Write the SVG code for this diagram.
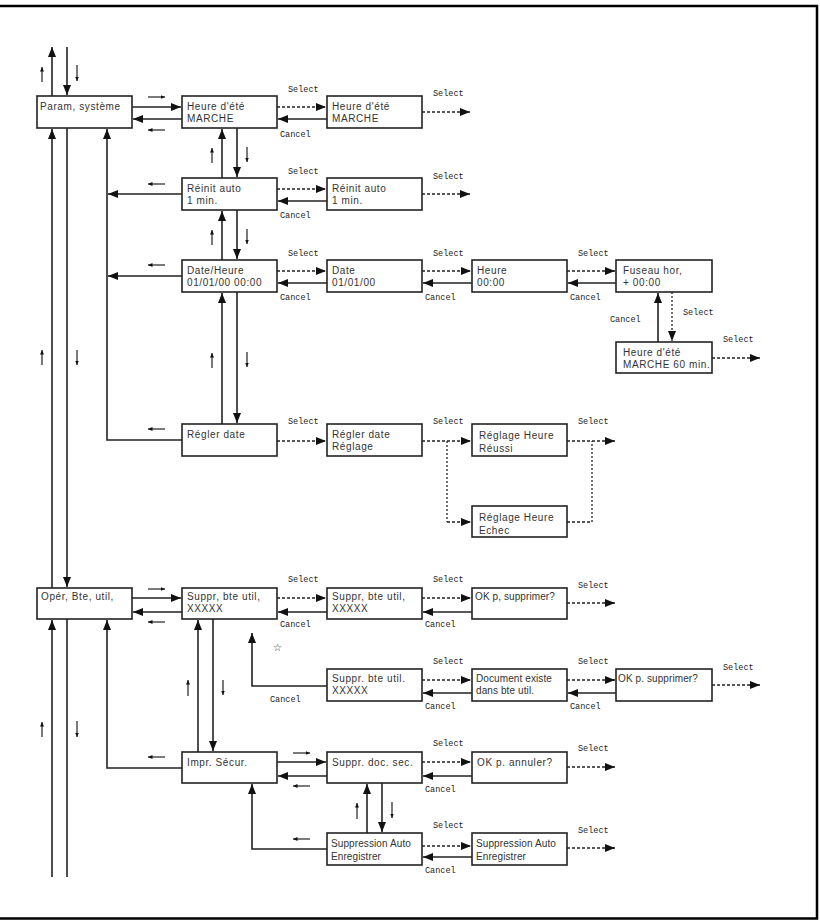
<svg xmlns="http://www.w3.org/2000/svg" width="820" height="921" viewBox="0 0 820 921">
<style>
.bx{fill:#fff;stroke:#222;stroke-width:1.6}
.t{font-family:"Liberation Sans",Arial,sans-serif;font-size:10px;fill:#333;letter-spacing:0.6px}
.t0{letter-spacing:0.1px}
.lb{font-family:"Liberation Mono","DejaVu Sans Mono",monospace;font-size:8.5px;fill:#222}
.ln{fill:none;stroke:#222;stroke-width:1.6}
.ds{fill:none;stroke:#222;stroke-width:1.3;stroke-dasharray:3 2}
.dt{fill:none;stroke:#222;stroke-width:1.3;stroke-dasharray:2 2}
.sm{fill:none;stroke:#222;stroke-width:1.2}
.brd{fill:none;stroke:#000;stroke-width:2.5}
</style>
<defs>
<marker id="ah" markerUnits="userSpaceOnUse" markerWidth="11" markerHeight="9" refX="10" refY="4" orient="auto"><path d="M0,0 L10,4 L0,8 z" fill="#111"/></marker>
<marker id="sa" markerUnits="userSpaceOnUse" markerWidth="5" markerHeight="5" refX="4.5" refY="2" orient="auto"><path d="M0,0 L4.5,2 L0,4 z" fill="#111"/></marker>
</defs>
<g id="frame">
<path class="brd" d="M0,6 H817 V918.5 H0"/>
</g>
<g id="connectors">
<path class="ln" d="M52,877 V620" marker-end="url(#ah)"/>
<path class="ln" d="M52,588 V129" marker-end="url(#ah)"/>
<path class="ln" d="M52,96 V47" marker-end="url(#ah)"/>
<path class="ln" d="M67,47 V95" marker-end="url(#ah)"/>
<path class="ln" d="M67,128 V587" marker-end="url(#ah)"/>
<path class="ln" d="M67,619 V877"/>
<path class="ln" d="M182,440 H107 V129" marker-end="url(#ah)"/>
<path class="ln" d="M182,194 H108" marker-end="url(#ah)"/>
<path class="ln" d="M182,276 H108" marker-end="url(#ah)"/>
<path class="ln" d="M182,768 H107 V620" marker-end="url(#ah)"/>
<path class="ln" d="M132,107 H181" marker-end="url(#ah)"/>
<path class="ln" d="M182,119 H133" marker-end="url(#ah)"/>
<path class="ln" d="M222,178 V129" marker-end="url(#ah)"/>
<path class="ln" d="M237,128 V177" marker-end="url(#ah)"/>
<path class="ln" d="M222,260 V211" marker-end="url(#ah)"/>
<path class="ln" d="M237,210 V259" marker-end="url(#ah)"/>
<path class="ln" d="M222,424 V293" marker-end="url(#ah)"/>
<path class="ln" d="M237,292 V423" marker-end="url(#ah)"/>
<path class="ds" d="M277,107 H326" marker-end="url(#ah)"/>
<path class="ln" d="M327,119 H278" marker-end="url(#ah)"/>
<path class="ds" d="M422,112 H470" marker-end="url(#ah)"/>
<path class="ds" d="M277,189 H326" marker-end="url(#ah)"/>
<path class="ln" d="M327,201 H278" marker-end="url(#ah)"/>
<path class="ds" d="M422,194 H470" marker-end="url(#ah)"/>
<path class="ds" d="M277,271 H326" marker-end="url(#ah)"/>
<path class="ln" d="M327,283 H278" marker-end="url(#ah)"/>
<path class="ds" d="M422,271 H471" marker-end="url(#ah)"/>
<path class="ln" d="M472,283 H423" marker-end="url(#ah)"/>
<path class="ds" d="M567,271 H615" marker-end="url(#ah)"/>
<path class="ln" d="M616,283 H568" marker-end="url(#ah)"/>
<path class="dt" d="M672,292 V341" marker-end="url(#ah)"/>
<path class="ln" d="M658,342 V293" marker-end="url(#ah)"/>
<path class="ds" d="M712,358 H760" marker-end="url(#ah)"/>
<path class="ds" d="M277,441 H326" marker-end="url(#ah)"/>
<path class="ds" d="M422,441 H471" marker-end="url(#ah)"/>
<path class="dt" d="M447,441 V522"/>
<path class="ds" d="M447,522 H471" marker-end="url(#ah)"/>
<path class="ds" d="M567,441 H615" marker-end="url(#ah)"/>
<path class="ds" d="M567,522 H592"/>
<path class="dt" d="M592,522 V441"/>
<path class="ln" d="M132,598 H181" marker-end="url(#ah)"/>
<path class="ln" d="M182,612 H133" marker-end="url(#ah)"/>
<path class="ds" d="M277,598 H326" marker-end="url(#ah)"/>
<path class="ln" d="M327,612 H278" marker-end="url(#ah)"/>
<path class="ds" d="M422,598 H471" marker-end="url(#ah)"/>
<path class="ln" d="M472,612 H423" marker-end="url(#ah)"/>
<path class="ds" d="M567,603 H615" marker-end="url(#ah)"/>
<path class="ln" d="M198,752 V620" marker-end="url(#ah)"/>
<path class="ln" d="M213,619 V751" marker-end="url(#ah)"/>
<path class="ln" d="M327,686 H252 V633" marker-end="url(#ah)"/>
<path class="ds" d="M422,680 H471" marker-end="url(#ah)"/>
<path class="ln" d="M472,693 H423" marker-end="url(#ah)"/>
<path class="ds" d="M567,680 H615" marker-end="url(#ah)"/>
<path class="ln" d="M616,693 H568" marker-end="url(#ah)"/>
<path class="ds" d="M712,685 H760" marker-end="url(#ah)"/>
<path class="ln" d="M277,762 H326" marker-end="url(#ah)"/>
<path class="ln" d="M327,776 H278" marker-end="url(#ah)"/>
<path class="ds" d="M422,762 H471" marker-end="url(#ah)"/>
<path class="ln" d="M472,776 H423" marker-end="url(#ah)"/>
<path class="ds" d="M567,767 H615" marker-end="url(#ah)"/>
<path class="ln" d="M367,833 V784" marker-end="url(#ah)"/>
<path class="ln" d="M382,783 V832" marker-end="url(#ah)"/>
<path class="ln" d="M327,849 H252 V784" marker-end="url(#ah)"/>
<path class="ds" d="M422,846 H471" marker-end="url(#ah)"/>
<path class="ln" d="M472,857 H423" marker-end="url(#ah)"/>
<path class="ds" d="M567,848 H615" marker-end="url(#ah)"/>
<path class="sm" d="M42,82 V67" marker-end="url(#sa)"/>
<path class="sm" d="M77,65 V81" marker-end="url(#sa)"/>
<path class="sm" d="M42,365 V350" marker-end="url(#sa)"/>
<path class="sm" d="M77,350 V365" marker-end="url(#sa)"/>
<path class="sm" d="M42,737 V722" marker-end="url(#sa)"/>
<path class="sm" d="M77,721 V737" marker-end="url(#sa)"/>
<path class="sm" d="M148,97 H165" marker-end="url(#sa)"/>
<path class="sm" d="M165,130 H148" marker-end="url(#sa)"/>
<path class="sm" d="M165,184 H148" marker-end="url(#sa)"/>
<path class="sm" d="M165,265 H148" marker-end="url(#sa)"/>
<path class="sm" d="M165,429 H148" marker-end="url(#sa)"/>
<path class="sm" d="M148,589 H165" marker-end="url(#sa)"/>
<path class="sm" d="M165,622 H148" marker-end="url(#sa)"/>
<path class="sm" d="M165,757 H148" marker-end="url(#sa)"/>
<path class="sm" d="M212,163 V148" marker-end="url(#sa)"/>
<path class="sm" d="M247,147 V162" marker-end="url(#sa)"/>
<path class="sm" d="M212,245 V230" marker-end="url(#sa)"/>
<path class="sm" d="M247,229 V244" marker-end="url(#sa)"/>
<path class="sm" d="M212,368 V353" marker-end="url(#sa)"/>
<path class="sm" d="M247,352 V367" marker-end="url(#sa)"/>
<path class="sm" d="M188,696 V680" marker-end="url(#sa)"/>
<path class="sm" d="M223,680 V695" marker-end="url(#sa)"/>
<path class="sm" d="M293,753 H310" marker-end="url(#sa)"/>
<path class="sm" d="M310,786 H293" marker-end="url(#sa)"/>
<path class="sm" d="M310,839 H293" marker-end="url(#sa)"/>
<path class="sm" d="M357,819 V803" marker-end="url(#sa)"/>
<path class="sm" d="M392,802 V818" marker-end="url(#sa)"/>
<text class="lb" x="288" y="92">Select</text>
<text class="lb" x="280" y="137">Cancel</text>
<text class="lb" x="433" y="96">Select</text>
<text class="lb" x="288" y="174">Select</text>
<text class="lb" x="280" y="218">Cancel</text>
<text class="lb" x="433" y="179">Select</text>
<text class="lb" x="288" y="256">Select</text>
<text class="lb" x="280" y="300">Cancel</text>
<text class="lb" x="433" y="256">Select</text>
<text class="lb" x="425" y="300">Cancel</text>
<text class="lb" x="578" y="256">Select</text>
<text class="lb" x="570" y="300">Cancel</text>
<text class="lb" x="683" y="315">Select</text>
<text class="lb" x="610" y="322">Cancel</text>
<text class="lb" x="723" y="342">Select</text>
<text class="lb" x="288" y="424">Select</text>
<text class="lb" x="433" y="424">Select</text>
<text class="lb" x="578" y="424">Select</text>
<text class="lb" x="288" y="582">Select</text>
<text class="lb" x="280" y="627">Cancel</text>
<text class="lb" x="433" y="582">Select</text>
<text class="lb" x="425" y="627">Cancel</text>
<text class="lb" x="578" y="588">Select</text>
<text x="273" y="651" style="font-family:'DejaVu Sans',sans-serif;font-size:10px;fill:#222">☆</text>
<text class="lb" x="270" y="702">Cancel</text>
<text class="lb" x="433" y="664">Select</text>
<text class="lb" x="425" y="709">Cancel</text>
<text class="lb" x="578" y="664">Select</text>
<text class="lb" x="570" y="709">Cancel</text>
<text class="lb" x="723" y="670">Select</text>
<text class="lb" x="433" y="746">Select</text>
<text class="lb" x="425" y="792">Cancel</text>
<text class="lb" x="578" y="751">Select</text>
<text class="lb" x="433" y="828">Select</text>
<text class="lb" x="425" y="873">Cancel</text>
<text class="lb" x="578" y="833">Select</text>
</g>
<g id="param"><rect class="bx" x="37" y="96" width="95" height="32"/><text class="t" x="40" y="110">Param, système</text></g>
<g id="hete1"><rect class="bx" x="182" y="96" width="95" height="32"/><text class="t" x="187" y="110">Heure d'été</text><text class="t" x="187" y="122">MARCHE</text></g>
<g id="hete2"><rect class="bx" x="327" y="96" width="95" height="32"/><text class="t" x="332" y="110">Heure d'été</text><text class="t" x="332" y="122">MARCHE</text></g>
<g id="reinit1"><rect class="bx" x="182" y="178" width="95" height="32"/><text class="t" x="187" y="192">Réinit auto</text><text class="t" x="187" y="204">1 min.</text></g>
<g id="reinit2"><rect class="bx" x="327" y="178" width="95" height="32"/><text class="t" x="332" y="192">Réinit auto</text><text class="t" x="332" y="204">1 min.</text></g>
<g id="dateheure"><rect class="bx" x="182" y="260" width="95" height="32"/><text class="t" x="187" y="274">Date/Heure</text><text class="t" x="187" y="286">01/01/00 00:00</text></g>
<g id="date"><rect class="bx" x="327" y="260" width="95" height="32"/><text class="t" x="332" y="274">Date</text><text class="t" x="332" y="286">01/01/00</text></g>
<g id="heure"><rect class="bx" x="472" y="260" width="95" height="32"/><text class="t" x="477" y="274">Heure</text><text class="t" x="477" y="286">00:00</text></g>
<g id="fuseau"><rect class="bx" x="616" y="260" width="96" height="32"/><text class="t" x="623" y="274">Fuseau hor,</text><text class="t" x="623" y="286">+ 00:00</text></g>
<g id="hete60"><rect class="bx" x="616" y="342" width="96" height="31"/><text class="t" x="623" y="356">Heure d'été</text><text class="t" x="623" y="368">MARCHE 60 min.</text></g>
<g id="regler"><rect class="bx" x="182" y="424" width="95" height="32"/><text class="t" x="187" y="438">Régler date</text></g>
<g id="reglage"><rect class="bx" x="327" y="424" width="95" height="32"/><text class="t" x="332" y="438">Régler date</text><text class="t" x="332" y="450">Réglage</text></g>
<g id="reussi"><rect class="bx" x="472" y="424" width="95" height="32"/><text class="t" x="479" y="439">Réglage Heure</text><text class="t" x="479" y="452">Réussi</text></g>
<g id="echec"><rect class="bx" x="472" y="506" width="95" height="31"/><text class="t" x="479" y="521">Réglage Heure</text><text class="t" x="479" y="534">Echec</text></g>
<g id="oper"><rect class="bx" x="37" y="588" width="95" height="31"/><text class="t" x="41" y="600">Opér, Bte, util,</text></g>
<g id="supprbte1"><rect class="bx" x="182" y="588" width="95" height="31"/><text class="t" x="187" y="600">Suppr, bte util,</text><text class="t" x="187" y="612">XXXXX</text></g>
<g id="supprbte2"><rect class="bx" x="327" y="588" width="95" height="31"/><text class="t" x="332" y="600">Suppr, bte util,</text><text class="t" x="332" y="612">XXXXX</text></g>
<g id="oksuppr1"><rect class="bx" x="472" y="588" width="95" height="31"/><text class="t t0" x="475" y="600">OK p, supprimer?</text></g>
<g id="supprbte3"><rect class="bx" x="327" y="669" width="95" height="32"/><text class="t" x="332" y="682">Suppr. bte util.</text><text class="t" x="332" y="694">XXXXX</text></g>
<g id="docexiste"><rect class="bx" x="472" y="669" width="95" height="32"/><text class="t t0" x="476" y="682">Document existe</text><text class="t t0" x="476" y="694">dans bte util.</text></g>
<g id="oksuppr2"><rect class="bx" x="616" y="669" width="96" height="32"/><text class="t t0" x="618" y="682">OK p. supprimer?</text></g>
<g id="impr"><rect class="bx" x="182" y="752" width="95" height="31"/><text class="t" x="187" y="766">Impr. Sécur.</text></g>
<g id="supprdoc"><rect class="bx" x="327" y="752" width="95" height="31"/><text class="t" x="332" y="766">Suppr. doc. sec.</text></g>
<g id="okannuler"><rect class="bx" x="472" y="752" width="95" height="31"/><text class="t" x="477" y="766">OK p. annuler?</text></g>
<g id="suppauto1"><rect class="bx" x="327" y="833" width="95" height="32"/><text class="t t0" x="331" y="847">Suppression Auto</text><text class="t t0" x="331" y="860">Enregistrer</text></g>
<g id="suppauto2"><rect class="bx" x="472" y="833" width="95" height="32"/><text class="t t0" x="476" y="847">Suppression Auto</text><text class="t t0" x="476" y="860">Enregistrer</text></g>
</svg>
